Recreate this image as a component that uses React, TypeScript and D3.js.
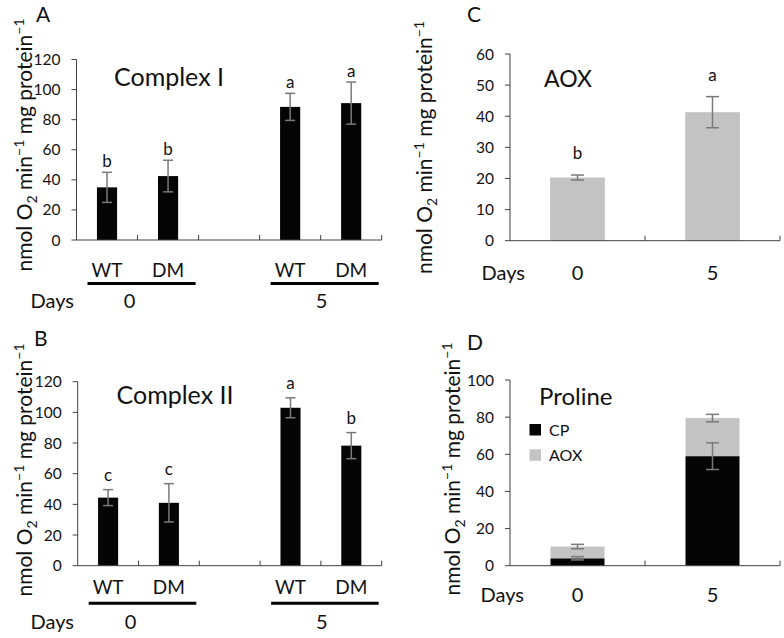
import React from "react";
import * as d3 from "d3";

// ---------- data ----------
const days = ["0", "5"];
const genotypes = ["WT", "DM"];
const slotsAB = ["0-WT", "0-DM", "gap", "5-WT", "5-DM"];

const complexI = [35, 42.5, 88.5, 91];
const complexIErr = [10, 10.5, 9, 14];
const complexILetters = ["b", "b", "a", "a"];

const complexII = [44.4, 41, 103, 78.3];
const complexIIErr = [5.2, 12.5, 6.5, 8.5];
const complexIILetters = ["c", "c", "a", "b"];

const aoxRate = [20.3, 41.3];
const aoxErr = [0.8, 5];
const aoxLetters = ["b", "a"];

const prolineCP = [4, 59];
const prolineCPErr = [0.9, 7.2];
const prolineAOX = [6.3, 20.5];
const prolineTotalErr = [1.2, 2];

const ticksAB = [0, 20, 40, 60, 80, 100, 120];
const ticksC = [0, 10, 20, 30, 40, 50, 60];
const ticksD = [0, 20, 40, 60, 80, 100];

const legendD = ["CP", "AOX"];

// ---------- style ----------
const FONT = "Lato, 'Open Sans', sans-serif";
const AXIS = "#404040";
const ERR = "#7a7a7a";
const BLACK = "#050505";
const GREY = "#c3c3c3";
const TXT = "#111";

function YLabel({ x, y }: { x: number; y: number }) {
  return (
    <text
      transform={`translate(${x},${y}) rotate(-90)`}
      textAnchor="middle"
      fontFamily={FONT}
      fontSize={21}
      fill={TXT}
    >
      nmol O
      <tspan dy={5} fontSize={14}>2</tspan>
      <tspan dy={-5}> min</tspan>
      <tspan dy={-8} fontSize={14}>−1</tspan>
      <tspan dy={8}> mg protein</tspan>
      <tspan dy={-8} fontSize={14}>−1</tspan>
    </text>
  );
}

function YAxis({ y, ticks, left }: { y: d3.ScaleLinear<number, number>; ticks: number[]; left: number }) {
  const [b, t] = y.range();
  return (
    <g>
      <line x1={left} x2={left} y1={t} y2={b} stroke={AXIS} strokeWidth={1} />
      {ticks.map((v) => (
        <g key={v}>
          <line x1={left - 5} x2={left} y1={y(v)} y2={y(v)} stroke={AXIS} strokeWidth={1} />
          <text
            x={left - 16}
            y={y(v)}
            dy="0.36em"
            textAnchor="end"
            fontFamily={FONT}
            fontSize={15.5}
            fill={TXT}
          >
            {v}
          </text>
        </g>
      ))}
    </g>
  );
}

function XAxis({ x, bottom }: { x: d3.ScaleBand<string>; bottom: number }) {
  const [l, r] = x.range();
  const bounds = x.domain().slice(1).map((d) => x(d) as number).concat([r]);
  return (
    <g>
      <line x1={l} x2={r} y1={bottom} y2={bottom} stroke={AXIS} strokeWidth={1} />
      {bounds.map((bx, i) => (
        <line key={i} x1={bx} x2={bx} y1={bottom - 5} y2={bottom} stroke={AXIS} strokeWidth={1} />
      ))}
    </g>
  );
}

function ErrBar({ cx, y1, y2, cap }: { cx: number; y1: number; y2: number; cap: number }) {
  return (
    <g stroke={ERR} strokeWidth={1.5}>
      <line x1={cx} x2={cx} y1={y1} y2={y2} />
      <line x1={cx - cap / 2} x2={cx + cap / 2} y1={y1} y2={y1} />
      <line x1={cx - cap / 2} x2={cx + cap / 2} y1={y2} y2={y2} />
    </g>
  );
}

type GroupedGeom = {
  left: number; right: number; top: number; bottom: number;
  letter: string; letterX: number; letterY: number;
  title: string; titleX: number; titleY: number;
  ylabX: number; ylabY: number;
  catY: number; lineY: number; daysY: number;
  letterGap: number;
};

function GroupedPanel({
  g, values, errs, letters,
}: { g: GroupedGeom; values: number[]; errs: number[]; letters: string[] }) {
  const x = d3.scaleBand<string>().domain(slotsAB).range([g.left, g.right]).padding(0);
  const y = d3.scaleLinear().domain([0, 120]).range([g.bottom, g.top]);
  const bw = x.bandwidth() * 0.33;
  const keyOf = (i: number) => `${days[Math.floor(i / 2)]}-${genotypes[i % 2]}`;
  const groupSpan = (di: number) => {
    const a = x(`${days[di]}-${genotypes[0]}`) as number;
    const b = (x(`${days[di]}-${genotypes[1]}`) as number) + x.bandwidth();
    return [a, b];
  };
  return (
    <g>
      <text x={g.letterX} y={g.letterY} fontFamily={FONT} fontSize={21} fill={TXT}>{g.letter}</text>
      <YLabel x={g.ylabX} y={g.ylabY} />
      <text x={g.titleX} y={g.titleY} fontFamily={FONT} fontSize={25} fill={TXT}>{g.title}</text>
      {values.map((v, i) => {
        const cx = (x(keyOf(i)) as number) + x.bandwidth() / 2;
        return (
          <g key={i}>
            <rect x={cx - bw / 2} y={y(v)} width={bw} height={y(0) - y(v)} fill={BLACK} />
            <ErrBar cx={cx} y1={y(v + errs[i])} y2={y(v - errs[i])} cap={10} />
            <text
              x={cx}
              y={y(v + errs[i]) - g.letterGap}
              textAnchor="middle"
              fontFamily={FONT}
              fontSize={17}
              fill={TXT}
            >
              {letters[i]}
            </text>
            <text x={cx} y={g.catY} textAnchor="middle" fontFamily={FONT} fontSize={19} fill={TXT}>
              {genotypes[i % 2]}
            </text>
          </g>
        );
      })}
      <YAxis y={y} ticks={ticksAB} left={g.left} />
      <XAxis x={x} bottom={g.bottom} />
      {days.map((d, di) => {
        const [a, b] = groupSpan(di);
        const mid = (a + b) / 2;
        return (
          <g key={d}>
            <line x1={a + 11} x2={b - 3} y1={g.lineY} y2={g.lineY} stroke="#000" strokeWidth={3} />
            <text
              x={mid + (di === 0 ? -8 : 1)}
              y={g.daysY}
              textAnchor="middle"
              fontFamily={FONT}
              fontSize={20}
              fill={TXT}
            >
              {d}
            </text>
          </g>
        );
      })}
      <text x={74} y={g.daysY} textAnchor="end" fontFamily={FONT} fontSize={20} fill={TXT}>Days</text>
    </g>
  );
}

type SimpleGeom = {
  left: number; right: number; top: number; bottom: number;
  letter: string; letterX: number; letterY: number;
  title: string; titleX: number; titleY: number; titleSize: number;
  ylabX: number; ylabY: number; daysY: number; daysRight: number;
};

const geomA: GroupedGeom = {
  left: 76.5, right: 381.7, top: 59.5, bottom: 240,
  letter: "A", letterX: 36, letterY: 22,
  title: "Complex I", titleX: 114, titleY: 86,
  ylabX: 32, ylabY: 145,
  catY: 277, lineY: 283.5, daysY: 308, letterGap: 5,
};
const geomB: GroupedGeom = {
  left: 77.7, right: 381.7, top: 381.7, bottom: 565.7,
  letter: "B", letterX: 34, letterY: 345.7,
  title: "Complex II", titleX: 116.5, titleY: 404.3,
  ylabX: 32, ylabY: 470,
  catY: 593.5, lineY: 603.3, daysY: 628.5, letterGap: 9,
};
const geomC: SimpleGeom = {
  left: 510, right: 780, top: 54, bottom: 240.7,
  letter: "C", letterX: 467, letterY: 22,
  title: "AOX", titleX: 544, titleY: 87.3, titleSize: 23,
  ylabX: 432, ylabY: 147.5, daysY: 279.5, daysRight: 525,
};
const geomD: SimpleGeom = {
  left: 510, right: 780, top: 380, bottom: 565.7,
  letter: "D", letterX: 467, letterY: 350,
  title: "Proline", titleX: 539, titleY: 405, titleSize: 24,
  ylabX: 460, ylabY: 469, daysY: 601.7, daysRight: 524,
};

function SimpleFrame({
  g, max, ticks, children,
}: { g: SimpleGeom; max: number; ticks: number[]; children: (x: d3.ScaleBand<string>, y: d3.ScaleLinear<number, number>) => React.ReactNode }) {
  const x = d3.scaleBand<string>().domain(days).range([g.left, g.right]).padding(0);
  const y = d3.scaleLinear().domain([0, max]).range([g.bottom, g.top]);
  return (
    <g>
      <text x={g.letterX} y={g.letterY} fontFamily={FONT} fontSize={21} fill={TXT}>{g.letter}</text>
      <YLabel x={g.ylabX} y={g.ylabY} />
      <text x={g.titleX} y={g.titleY} fontFamily={FONT} fontSize={g.titleSize} fill={TXT}>{g.title}</text>
      {children(x, y)}
      <YAxis y={y} ticks={ticks} left={g.left} />
      <XAxis x={x} bottom={g.bottom} />
      <text x={g.daysRight} y={g.daysY} textAnchor="end" fontFamily={FONT} fontSize={20} fill={TXT}>Days</text>
      {days.map((d) => (
        <text
          key={d}
          x={(x(d) as number) + x.bandwidth() / 2}
          y={g.daysY}
          textAnchor="middle"
          fontFamily={FONT}
          fontSize={20}
          fill={TXT}
        >
          {d}
        </text>
      ))}
    </g>
  );
}

export default function App() {
  return (
    <svg
      width={784}
      height={638}
      style={{ position: "absolute", left: 0, top: 0, background: "#fff" }}
    >
      <GroupedPanel g={geomA} values={complexI} errs={complexIErr} letters={complexILetters} />
      <GroupedPanel g={geomB} values={complexII} errs={complexIIErr} letters={complexIILetters} />
      <SimpleFrame g={geomC} max={60} ticks={ticksC}>
        {(x, y) => {
          const bw = x.bandwidth() * 0.405;
          return days.map((d, i) => {
            const cx = (x(d) as number) + x.bandwidth() / 2;
            const v = aoxRate[i];
            return (
              <g key={d}>
                <rect x={cx - bw / 2} y={y(v)} width={bw} height={y(0) - y(v)} fill={GREY} />
                <ErrBar cx={cx} y1={y(v + aoxErr[i])} y2={y(v - aoxErr[i])} cap={13} />
                <text
                  x={cx}
                  y={y(v + aoxErr[i]) - 16}
                  textAnchor="middle"
                  fontFamily={FONT}
                  fontSize={17}
                  fill={TXT}
                >
                  {aoxLetters[i]}
                </text>
              </g>
            );
          });
        }}
      </SimpleFrame>
      <SimpleFrame g={geomD} max={100} ticks={ticksD}>
        {(x, y) => {
          const bw = x.bandwidth() * 0.4;
          const stack = days.map((d, i) => ({ d, cp: prolineCP[i], tot: prolineCP[i] + prolineAOX[i] }));
          return (
            <g>
              {stack.map((s, i) => {
                const cx = (x(s.d) as number) + x.bandwidth() / 2;
                return (
                  <g key={s.d}>
                    <rect x={cx - bw / 2} y={y(s.cp)} width={bw} height={y(0) - y(s.cp)} fill={BLACK} />
                    <rect x={cx - bw / 2} y={y(s.tot)} width={bw} height={y(s.cp) - y(s.tot)} fill={GREY} />
                    <ErrBar cx={cx} y1={y(s.cp + prolineCPErr[i])} y2={y(s.cp - prolineCPErr[i])} cap={13} />
                    <ErrBar cx={cx} y1={y(s.tot + prolineTotalErr[i])} y2={y(s.tot - prolineTotalErr[i])} cap={13} />
                  </g>
                );
              })}
              {legendD.map((name, i) => (
                <g key={name} transform={`translate(529.5, ${424 + i * 25.3})`}>
                  <rect x={0} y={0} width={11.5} height={11.5} fill={i === 0 ? BLACK : GREY} />
                  <text x={19.5} y={11.5} fontFamily={FONT} fontSize={16} fill={TXT}>{name}</text>
                </g>
              ))}
            </g>
          );
        }}
      </SimpleFrame>
    </svg>
  );
}
